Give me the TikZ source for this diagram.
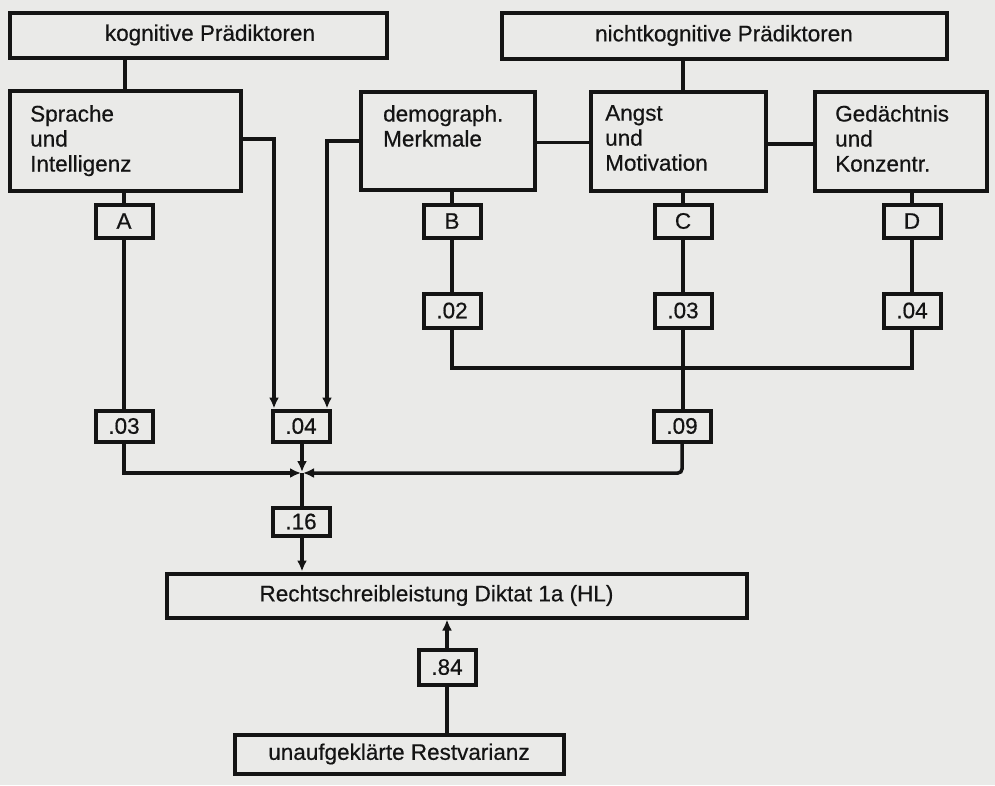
\documentclass[tikz,border=0pt]{standalone}
\usepackage{fontspec}
\setmainfont{Liberation Sans}[FakeBold=0.5]
\usetikzlibrary{arrows.meta}
\definecolor{paper}{HTML}{EAEAE8}
\definecolor{ink}{HTML}{141414}

\begin{document}
\begin{tikzpicture}[x=1pt,y=-1pt,
  font=\fontsize{22.5}{25}\selectfont,
  box/.style={draw=ink, line width=4pt, fill=paper, inner sep=0pt, text=ink},
  valbox/.style={box, minimum width=57pt, minimum height=33pt},
  wire/.style={draw=ink, line width=3.5pt},
  arr/.style={wire, -{Latex[length=11pt,width=10pt]}},
  lbl/.style={anchor=north west, align=left, inner sep=0pt, text=ink},
]
\fill[paper] (0,0) rectangle (995,785);
\useasboundingbox (0,0) rectangle (995,785);

% top level groups
\node[box, minimum width=377pt, minimum height=45pt] (kog) at (198,35)
  {\hspace*{24pt}kognitive Prädiktoren};
\node[box, minimum width=445pt, minimum height=46pt] (nkog) at (724,35.5)
  {nichtkognitive Prädiktoren};

% predictor groups
\node[box, minimum width=231pt, minimum height=100pt] (spr) at (125,140.5) {};
\node[box, minimum width=174pt, minimum height=98pt]  (dem) at (447.5,140.5) {};
\node[box, minimum width=175pt, minimum height=99pt]  (ang) at (678,141) {};
\node[box, minimum width=172pt, minimum height=99pt]  (ged) at (900.5,141) {};
\node[lbl] at (30,105)  {Sprache\\und\\Intelligenz};
\node[lbl] at (383,105) {demograph.\\Merkmale};
\node[lbl] at (605,105) {Angst\\und\\Motivation};
\node[lbl] at (835,105) {Gedächtnis\\und\\Konzentr.};

% group letters
\node[valbox] (A) at (124,221) {A};
\node[valbox] (B) at (452,221) {B};
\node[valbox] (C) at (683,221) {C};
\node[valbox] (D) at (912,221) {D};

% first row of coefficients
\node[valbox, minimum height=34pt] (v02)  at (452,310.5) {.02};
\node[valbox, minimum height=34pt] (v03c) at (683,310.5) {.03};
\node[valbox, minimum height=34pt] (v04d) at (912,310.5) {.04};

% second row of coefficients
\node[valbox, minimum height=31pt] (v03a) at (124,426) {.03};
\node[valbox, minimum height=31pt] (v04)  at (301,426) {.04};
\node[valbox, minimum height=31pt] (v09)  at (682,426) {.09};
\node[valbox, minimum height=28pt] (v16)  at (301,521.5) {.16};

% criterion and residual
\node[box, minimum width=580pt, minimum height=44pt] (rech) at (456.5,595.5)
  {Rechtschreibleistung Diktat 1a (HL)\hspace*{40pt}};
\node[valbox, minimum height=35pt] (v84) at (447,667) {.84};
\node[box, minimum width=329pt, minimum height=39pt] (rest) at (399,754)
  {unaufgeklärte Restvarianz};

% hierarchy links
\draw[wire] (spr.north) -- (spr.north |- kog.south);
\draw[wire] (C |- ang.north) -- (C |- nkog.south);
\draw[wire] ([yshift=-2pt]dem.east) -- ([yshift=-2pt]dem.east -| ang.west);
\draw[wire] ([yshift=-3pt]ang.east) -- ([yshift=-3pt]ang.east -| ged.west);

% groups to letters
\draw[wire] (A.north) -- (A.north |- spr.south);
\draw[wire] (B.north) -- (B.north |- dem.south);
\draw[wire] (C.north) -- (C.north |- ang.south);
\draw[wire] (D.north) -- (D.north |- ged.south);

% letters to coefficients
\draw[wire] (A.south) -- (v03a.north);
\draw[wire] (B.south) -- (v02.north);
\draw[wire] (C.south) -- (v03c.north);
\draw[wire] (D.south) -- (v04d.north);
\draw[wire] (v03c.south) -- (v09.north -| v03c.south);

% common bus of the nonintellectual paths
\coordinate (bus) at (683,368);
\draw[wire] (v02.south) |- (bus) -| (v04d.south);

% shared variance of language/intelligence and demographics
\draw[arr] ([yshift=1.5pt]spr.east) -| ([xshift=-27pt]v04.north);
\draw[arr] ([yshift=-0.5pt]dem.west) -| ([xshift=26pt]v04.north);

% junction of the three paths
\coordinate (J) at (302,473);
\draw[arr, shorten >=1pt] (v03a.south) |- (J);
\draw[arr, shorten >=1pt] (v04.south -| J) -- (J);
\draw[arr, shorten >=1pt, rounded corners=4pt] (v09.south) |- (J);
\draw[wire] (J) -- (v16.north -| J);
\draw[arr] (v16.south -| J) -- (J |- rech.north);

% residual
\draw[arr] (v84.north) -- (v84.north |- rech.south);
\draw[wire] (v84.south) -- (v84.south |- rest.north);
\end{tikzpicture}
\end{document}
